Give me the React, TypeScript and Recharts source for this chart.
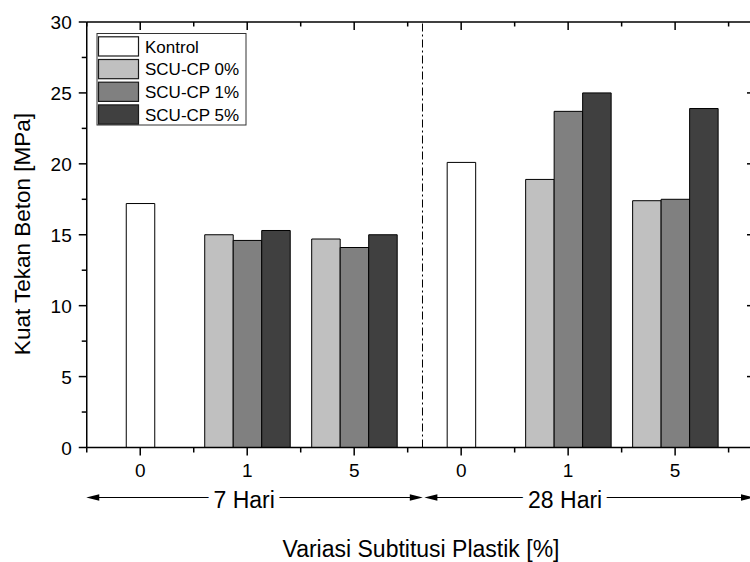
import React from 'react';
import { BarChart, Bar, XAxis, YAxis, ReferenceLine } from 'recharts';

// category slots on a numeric x axis (two curing ages, three plastic ratios each)
const positions = [1, 2, 3, 4, 5, 6];
const tickLabels = ['0', '1', '5', '0', '1', '5'];
const groupLabels = ['7 Hari', '28 Hari'];
const groupCenters = [2, 5];
const dividerAt = 3.6385;

const kontrol = [17.2, null, null, 20.1, null, null];
const scu0 = [null, 15.0, 14.7, null, 18.9, 17.4];
const scu1 = [null, 14.6, 14.1, null, 23.7, 17.5];
const scu5 = [null, 15.3, 15.0, null, 25.0, 23.9];

const seriesNames = ['Kontrol', 'SCU-CP 0%', 'SCU-CP 1%', 'SCU-CP 5%'];
const seriesColors = ['#ffffff', '#c0c0c0', '#808080', '#404040'];

const yTicks = [0, 5, 10, 15, 20, 25, 30];
const yMinor = [2.5, 7.5, 12.5, 17.5, 22.5, 27.5];
const xMinor = [0.5, 1.5, 2.5, 3.5, 4.5, 5.5, 6.5];

const data = positions.map((x, i) => ({
    x,
    kontrol: kontrol[i],
    scu0: scu0[i],
    scu1: scu1[i],
    scu5: scu5[i],
}));

const W = 750;
const H = 562;
const LEFT = 86.75;
const TOP = 22;
const BOTTOM = 447.5;
const X_DOMAIN: [number, number] = [0.5, 6.7];
const Y_DOMAIN: [number, number] = [0, 30];
const UNIT = (W - LEFT) / (X_DOMAIN[1] - X_DOMAIN[0]);
const FONT = '"Liberation Sans", Arial, Helvetica, sans-serif';
const xPx = (v: number) => LEFT + (v - X_DOMAIN[0]) * UNIT;
const yPx = (v: number) => BOTTOM - ((v - Y_DOMAIN[0]) / (Y_DOMAIN[1] - Y_DOMAIN[0])) * (BOTTOM - TOP);

const BottomTick = (props: any) => {
    const { x, y, payload } = props;
    const label = tickLabels[positions.indexOf(payload.value)];
    return (
        <text x={x} y={y + 29.5} textAnchor="middle" fontSize={19} fill="#000" fontFamily={FONT}>
            {label}
        </text>
    );
};

const LeftTick = (props: any) => {
    const { x, y, payload } = props;
    return (
        <text x={x - 15} y={y + 7} textAnchor="end" fontSize={19} fill="#000" fontFamily={FONT}>
            {payload.value}
        </text>
    );
};

// inward/outward tick marks of the closed frame
const FrameTicks = () => {
    const s = { stroke: '#000', strokeWidth: 1.5 };
    return (
        <g>
            {positions.map((v) => (
                <g key={'xm' + v}>
                    <line x1={xPx(v)} x2={xPx(v)} y1={BOTTOM} y2={BOTTOM + 8} {...s} />
                    <line x1={xPx(v)} x2={xPx(v)} y1={TOP} y2={TOP + 8} {...s} />
                </g>
            ))}
            {xMinor.map((v) => (
                <g key={'xn' + v}>
                    <line x1={xPx(v)} x2={xPx(v)} y1={BOTTOM} y2={BOTTOM + 5} {...s} />
                    <line x1={xPx(v)} x2={xPx(v)} y1={TOP} y2={TOP + 4.5} {...s} />
                </g>
            ))}
            {yTicks.map((v) => (
                <g key={'ym' + v}>
                    <line x1={LEFT - 8} x2={LEFT} y1={yPx(v)} y2={yPx(v)} {...s} />
                    {v > 0 && v < 30 && <line x1={W - 3} x2={W} y1={yPx(v)} y2={yPx(v)} {...s} />}
                </g>
            ))}
            {yMinor.map((v) => (
                <line key={'yn' + v} x1={LEFT - 5} x2={LEFT} y1={yPx(v)} y2={yPx(v)} {...s} />
            ))}
        </g>
    );
};

const Arrow = ({ x, dir }: { x: number; dir: 1 | -1 }) => {
    const y = 497.5;
    return <polygon points={`${x},${y} ${x - dir * 13},${y - 3.2} ${x - dir * 13},${y + 3.2}`} fill="#000" />;
};

const Overlay = () => {
    const divX = xPx(dividerAt);
    const spans = [
        [LEFT - 0.5, divX + 0.3],
        [divX + 1.9, W + 4],
    ];
    return (
        <svg
            width={W}
            height={H}
            style={{ position: 'absolute', left: 0, top: 0, pointerEvents: 'none' }}
            fontFamily={FONT}
        >
            <FrameTicks />

            {/* legend */}
            <rect x={97} y={33.5} width={149} height={91.5} fill="#fff" stroke="#333" strokeWidth={1} />
            {seriesNames.map((name, i) => (
                <g key={name}>
                    <rect
                        x={98.5}
                        y={36.8 + i * 22.7}
                        width={40}
                        height={19.2}
                        fill={seriesColors[i]}
                        stroke="#1a1a1a"
                        strokeWidth={1.2}
                    />
                    <text x={145} y={52.5 + i * 22.7} fontSize={17} fill="#000">
                        {name}
                    </text>
                </g>
            ))}

            {/* age groups under the axis */}
            {spans.map(([a, b], i) => (
                <g key={i}>
                    <line x1={a + 6} x2={b - 6} y1={497.5} y2={497.5} stroke="#000" strokeWidth={1} />
                    <Arrow x={a} dir={-1} />
                    <Arrow x={b} dir={1} />
                    <text
                        x={xPx(groupCenters[i]) - 3}
                        y={507.5}
                        textAnchor="middle"
                        fontSize={23}
                        fill="#000"
                        stroke="#fff"
                        strokeWidth={12}
                        paintOrder="stroke"
                    >
                        {groupLabels[i]}
                    </text>
                </g>
            ))}

            {/* axis titles */}
            <text
                transform="translate(22.5,234) rotate(-90)"
                textAnchor="middle"
                dominantBaseline="central"
                fontSize={22.5}
                fill="#000"
            >
                Kuat Tekan Beton [MPa]
            </text>
            <text x={421} y={557} textAnchor="middle" fontSize={23} fill="#000">
                Variasi Subtitusi Plastik [%]
            </text>
        </svg>
    );
};

export default function App() {
    return (
        <div style={{ position: 'absolute', left: 0, top: 0, width: W, height: H, background: '#fff', fontFamily: FONT }}>
            <BarChart
                width={W}
                height={H}
                data={data}
                margin={{ top: TOP - 1, right: 0, bottom: H - BOTTOM - 60, left: 0 }}
                barGap={0}
                barSize={28.5}
            >
                <XAxis
                    dataKey="x"
                    type="number"
                    domain={X_DOMAIN}
                    ticks={positions}
                    interval={0}
                    allowDataOverflow
                    height={60}
                    tickSize={0}
                    tickMargin={0}
                    tickLine={false}
                    axisLine={{ stroke: '#000', strokeWidth: 1.5 }}
                    tick={(p: any) => <BottomTick {...p} />}
                />
                <XAxis
                    xAxisId="top"
                    orientation="top"
                    dataKey="x"
                    type="number"
                    domain={X_DOMAIN}
                    ticks={positions}
                    interval={0}
                    allowDataOverflow
                    height={1}
                    tick={false}
                    tickLine={false}
                    axisLine={{ stroke: '#000', strokeWidth: 1.5 }}
                />
                <YAxis
                    domain={Y_DOMAIN}
                    ticks={yTicks}
                    interval={0}
                    width={LEFT}
                    tickSize={0}
                    tickMargin={0}
                    tickLine={false}
                    axisLine={{ stroke: '#000', strokeWidth: 1.5 }}
                    tick={(p: any) => <LeftTick {...p} />}
                />
                <ReferenceLine x={dividerAt} stroke="#000" strokeWidth={1} strokeDasharray="8 3 2 3" />
                <Bar dataKey="scu0" name={seriesNames[1]} stackId="a" fill={seriesColors[1]} stroke="#000" strokeWidth={1} isAnimationActive={false} />
                <Bar dataKey="kontrol" name={seriesNames[0]} stackId="b" fill={seriesColors[0]} stroke="#000" strokeWidth={1} isAnimationActive={false} />
                <Bar dataKey="scu1" name={seriesNames[2]} stackId="b" fill={seriesColors[2]} stroke="#000" strokeWidth={1} isAnimationActive={false} />
                <Bar dataKey="scu5" name={seriesNames[3]} stackId="c" fill={seriesColors[3]} stroke="#000" strokeWidth={1} isAnimationActive={false} />
            </BarChart>
            <Overlay />
        </div>
    );
}
